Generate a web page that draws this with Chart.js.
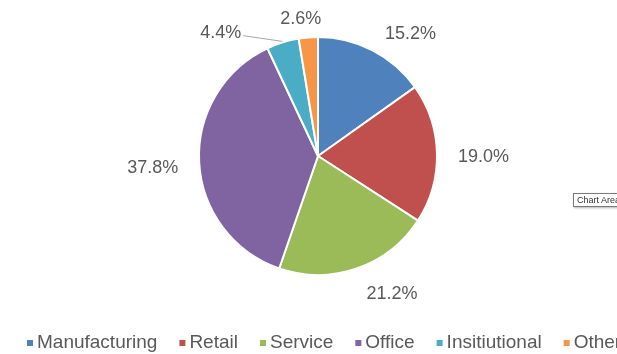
<!DOCTYPE html>
<html>
<head>
<meta charset="utf-8">
<script src="https://cdn.jsdelivr.net/npm/chart.js@4.4.0/dist/chart.umd.min.js"></script>
<style>
  html, body { margin: 0; padding: 0; background: #fff; overflow: hidden; }
  #wrap { position: relative; width: 617px; height: 354px; }
  .hint {
    position: absolute; left: 573px; top: 193px;
    font: 9px "Liberation Sans", Arial, sans-serif; color: #333;
    background: #fff; border: 1px solid #7a7a7a; padding: 1px 3px;
    box-shadow: 1px 1px 2px rgba(0, 0, 0, 0.3); white-space: nowrap;
  }
</style>
</head>
<body>
<div id="wrap">
  <canvas id="sectorChart" width="617" height="354"></canvas>
  <div class="hint">Chart Area</div>
</div>
<script>
const sectors = ["Manufacturing", "Retail", "Service", "Office", "Insitiutional", "Other"];
const shares = [15.2, 19.0, 21.2, 37.8, 4.4, 2.6];

const sectorColors = ["#4F81BD", "#C0504D", "#9BBB59", "#8064A2", "#4BACC6", "#F79646"];
const FONT = '"Liberation Sans", Arial, sans-serif';
const TEXT = "#595959";

const boxesOverlap = (a, b, padX) =>
  a.x1 < b.x2 + padX && a.x2 > b.x1 - padX && a.y1 < b.y2 && a.y2 > b.y1;

// percentage labels just outside each slice; a label that would collide
// with one already placed is swung away and tied back with a leader line
const pieLabels = {
  id: "pieLabels",
  afterDatasetsDraw(chart) {
    const ctx = chart.ctx;
    const arcs = chart.getDatasetMeta(0).data;
    const values = chart.data.datasets[0].data;
    const h = 13;
    const placed = [];
    ctx.save();
    ctx.font = "18px " + FONT;
    ctx.textAlign = "center";
    ctx.textBaseline = "middle";

    for (let i = arcs.length - 1; i >= 0; i--) {
      const arc = arcs[i];
      const text = values[i].toFixed(1) + "%";
      const w = ctx.measureText(text).width;
      const cx = arc.x, cy = arc.y, r = arc.outerRadius;
      const mid = (arc.startAngle + arc.endAngle) / 2;
      const dx = Math.cos(mid), dy = Math.sin(mid);
      const clamp = v => Math.max(-1, Math.min(1, v));

      let lx = cx + (r + 16) * dx + (w / 2 + 5) * clamp(3 * dx);
      let ly = cy + 4 + (r + 16) * dy + (h / 2) * clamp(3 * dy);
      let box = { x1: lx - w / 2, x2: lx + w / 2, y1: ly - h / 2, y2: ly + h / 2 };
      let leader = false;

      const hit = placed.find(p => boxesOverlap(box, p, 6));
      if (hit) {
        leader = true;
        const step = (mid < hit.mid ? -1 : 1) * Math.PI / 180;
        let a = mid;
        for (let k = 0; k < 90; k++) {
          a += step;
          lx = cx + (r + 38) * Math.cos(a);
          ly = cy + (r + 38) * Math.sin(a);
          box = { x1: lx - w / 2, x2: lx + w / 2, y1: ly - h / 2, y2: ly + h / 2 };
          if (!placed.some(p => boxesOverlap(box, p, 40))) break;
        }
      }

      if (leader) {
        const px = cx + (r + 1) * dx, py = cy + (r + 1) * dy;
        const ex = lx < px ? box.x2 + 2 : box.x1 - 2;
        ctx.strokeStyle = "#a6a6a6";
        ctx.lineWidth = 1;
        ctx.beginPath();
        ctx.moveTo(px, py);
        ctx.lineTo(ex, ly + 3);
        ctx.stroke();
      }

      ctx.fillStyle = TEXT;
      ctx.fillText(text, lx, ly);
      placed.push(Object.assign({ mid }, box));
    }
    ctx.restore();
  }
};

// single-row legend along the bottom edge, running off to the right
const legendRow = {
  id: "legendRow",
  afterDraw(chart) {
    const ctx = chart.ctx;
    const y = 343;
    let x = 27;
    ctx.save();
    ctx.font = "19px " + FONT;
    ctx.textBaseline = "middle";
    ctx.textAlign = "left";
    chart.data.labels.forEach((name, i) => {
      ctx.fillStyle = sectorColors[i];
      ctx.fillRect(x, y - 3, 6, 6);
      ctx.fillStyle = TEXT;
      ctx.fillText(name, x + 10, y);
      x += 10 + ctx.measureText(name).width + 22;
    });
    ctx.restore();
  }
};

const ctx = document.getElementById("sectorChart").getContext("2d");
new Chart(ctx, {
  type: "pie",
  data: {
    labels: sectors,
    datasets: [
      {
        data: shares,
        backgroundColor: sectorColors,
        borderColor: "#ffffff",
        borderWidth: 2,
      },
    ],
  },
  options: {
    responsive: false,
    animation: false,
    devicePixelRatio: 1,
    layout: {
      padding: { top: 36, bottom: 78, left: 198, right: 179 },
    },
    plugins: {
      legend: { display: false },
      tooltip: { enabled: false },
    },
  },
  plugins: [pieLabels, legendRow],
});
</script>
</body>
</html>
